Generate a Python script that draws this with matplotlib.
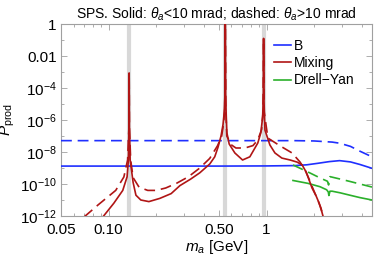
import numpy as np
import matplotlib
matplotlib.use("Agg")
import matplotlib.pyplot as plt
from matplotlib.ticker import FixedLocator, NullFormatter

plt.rcParams['font.family'] = ['Liberation Sans', 'DejaVu Sans']
plt.rcParams['mathtext.fontset'] = 'custom'
plt.rcParams['mathtext.rm'] = 'Liberation Sans'
plt.rcParams['mathtext.it'] = 'Liberation Sans:italic'

# ---- data (mass in GeV, log10 of P_prod) ----
meson_masses = [0.135, 0.548, 0.958]

b_solid_m = [0.05, 0.5, 1.0, 1.5, 1.8, 2.1, 2.5, 2.9, 3.4, 3.9, 4.65]
b_solid_lg = [-8.88, -8.88, -8.87, -8.85, -8.80, -8.71, -8.60, -8.54, -8.62, -8.78, -9.02]

b_dash_m = [0.05, 0.5, 1.0, 1.5, 2.0, 2.6, 2.9, 3.4, 3.9, 4.65]
b_dash_lg = [-7.29, -7.29, -7.29, -7.29, -7.31, -7.38, -7.45, -7.65, -7.95, -8.30]

mix_solid_m = [0.092, 0.108, 0.123, 0.131, 0.1335, 0.1345, 0.135, 0.1355, 0.137, 0.143,
               0.149, 0.160, 0.180, 0.211, 0.249, 0.283, 0.33, 0.378, 0.437, 0.47,
               0.493, 0.515, 0.53, 0.54, 0.545, 0.548, 0.551, 0.556, 0.561, 0.58,
               0.63, 0.705, 0.784, 0.88, 0.92, 0.945, 0.954, 0.958, 0.962, 0.97,
               0.977, 1.05, 1.13, 1.25, 1.41, 1.56, 1.68, 1.78, 1.86, 1.94,
               2.06, 2.15, 2.24, 2.35]
mix_solid_lg = [-12.06, -11.2, -10.4, -9.55, -8.5, -6.5, -3.06, -6.5, -8.5, -9.9,
                -10.7, -11.0, -11.1, -10.9, -10.6, -10.1, -9.7, -9.3, -8.75, -8.3,
                -7.7, -7.0, -6.3, -5.5, -4.5, 1.0, -4.5, -5.8, -6.8, -7.5,
                -8.06, -8.5, -8.3, -7.44, -6.8, -5.8, -4.5, -0.9, -4.5, -5.8,
                -6.63, -7.56, -8.06, -8.38, -8.5, -8.63, -8.81, -9.25, -9.75, -10.25,
                -10.75, -11.19, -11.75, -12.5]

mix_dash_m = [0.070, 0.086, 0.111, 0.125, 0.132, 0.1345, 0.135, 0.1355, 0.138, 0.143,
              0.156, 0.177, 0.2, 0.23, 0.27, 0.32, 0.378, 0.437, 0.49, 0.52,
              0.535, 0.544, 0.548, 0.552, 0.56, 0.6, 0.64, 0.73, 0.82, 0.88,
              0.93, 0.95, 0.958, 0.966, 1.02, 1.21, 1.45, 1.63, 1.75, 1.86,
              1.97, 2.09, 2.21, 2.35]
mix_dash_lg = [-12.06, -11.3, -10.4, -9.56, -8.5, -6.5, -3.06, -6.5, -8.5, -9.6,
               -10.2, -10.4, -10.4, -10.25, -9.95, -9.55, -9.0, -8.4, -7.6, -7.0,
               -6.2, -5.3, 1.0, -5.3, -7.0, -7.56, -7.75, -7.75, -7.6, -7.25,
               -6.6, -5.5, -0.9, -5.5, -7.13, -7.6, -8.06, -8.63, -9.1, -9.7,
               -10.3, -10.9, -11.5, -12.5]

dy_solid_m = [1.47, 1.83, 2.18, 2.40, 2.46, 2.48, 2.52, 2.6, 2.92, 3.37, 3.9, 4.65]
dy_solid_lg = [-9.78, -9.96, -10.17, -10.36, -10.5, -10.72, -10.45, -10.45, -10.55, -10.7, -10.85, -11.0]

dy_dash_m = [1.47, 1.83, 2.18, 2.43, 2.47, 2.52, 2.92, 3.37, 3.9, 4.65]
dy_dash_lg = [-8.81, -9.25, -9.62, -9.83, -10.06, -9.54, -9.69, -9.84, -10.0, -10.19]

x_major = [0.05, 0.1, 0.5, 1]
x_labels = ["0.05", "0.10", "0.50", "1"]
y_major = [1, 1e-2, 1e-4, 1e-6, 1e-8, 1e-10, 1e-12]
y_labels = ["1", "0.01", "$10^{-4}$", "$10^{-6}$", "$10^{-8}$", "$10^{-10}$", "$10^{-12}$"]

blue = '#1f2fff'
red = '#b01515'
green = '#2bb02b'
framec = '#a0a0a0'
dash = (0, (6.5, 3.5))

fig = plt.figure(figsize=(3.74, 2.57), dpi=100)
ax = fig.add_axes([61/374, 41/257, 311/374, 192/257])
ax.set_xscale('log')
ax.set_yscale('log')
ax.set_xlim(0.05, 4.65)
ax.set_ylim(1e-12, 1)

for mm in meson_masses:
    ax.axvline(mm, color='#d8d8d8', lw=3.0, zorder=1)

def p(lg):
    return 10.0 ** np.asarray(lg)

lw = 1.2
ax.plot(b_solid_m, p(b_solid_lg), color=blue, lw=lw, label='B', zorder=3)
ax.plot(b_dash_m, p(b_dash_lg), color=blue, lw=lw, ls=dash, zorder=3)
ax.plot(mix_solid_m, p(mix_solid_lg), color=red, lw=lw, label='Mixing', zorder=4)
ax.plot(mix_dash_m, p(mix_dash_lg), color=red, lw=lw, ls=dash, zorder=4)
ax.plot(dy_solid_m, p(dy_solid_lg), color=green, lw=lw, label='Drell\u2212Yan', zorder=3)
ax.plot(dy_dash_m, p(dy_dash_lg), color=green, lw=lw, ls=dash, zorder=3)

ax.xaxis.set_major_locator(FixedLocator(x_major))
ax.set_xticklabels(x_labels)
minor_x = [0.06, 0.07, 0.08, 0.09, 0.2, 0.3, 0.4, 0.6, 0.7, 0.8, 0.9, 2, 3, 4]
ax.xaxis.set_minor_locator(FixedLocator(minor_x))
ax.xaxis.set_minor_formatter(NullFormatter())
ax.yaxis.set_major_locator(FixedLocator(y_major))
ax.set_yticklabels(y_labels)
ax.yaxis.set_minor_locator(FixedLocator([1e-1, 1e-3, 1e-5, 1e-7, 1e-9, 1e-11]))
ax.yaxis.set_minor_formatter(NullFormatter())

ax.tick_params(which='both', direction='in', top=True, right=True, color=framec,
               labelsize=11)
ax.tick_params(axis='x', pad=5)
ax.tick_params(axis='y', pad=3)
ax.tick_params(which='major', length=4, width=0.6)
ax.tick_params(which='minor', length=2, width=0.6)
for s in ax.spines.values():
    s.set_color(framec)
    s.set_linewidth(0.8)

ax.set_xlabel('$m_a$ [GeV]', fontsize=11, labelpad=1)
ax.set_ylabel('$P_{\\rm prod}$', fontsize=11, labelpad=2)
ax.set_title('SPS. Solid: $\\theta_a$<10 mrad; dashed: $\\theta_a$>10 mrad', fontsize=10, pad=4)

ax.legend(loc='upper left', bbox_to_anchor=(0.655, 0.975), frameon=False, fontsize=10,
          handlelength=1.2, handletextpad=0.2, labelspacing=0.25, borderpad=0.2)

fig.savefig('out.png', dpi=100)
